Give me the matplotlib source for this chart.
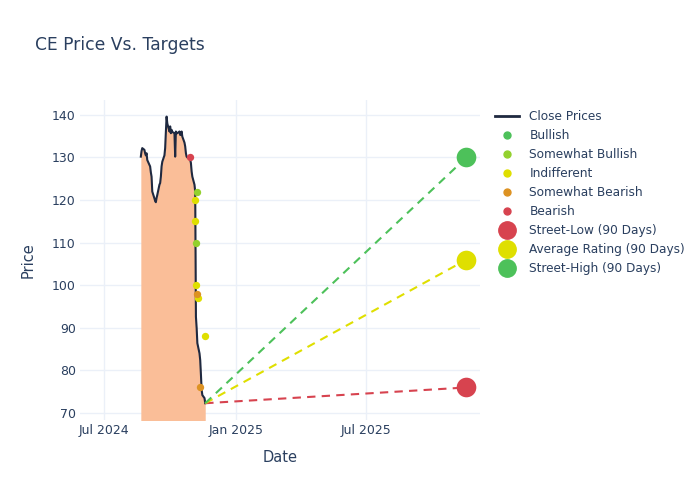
import matplotlib.pyplot as plt
import matplotlib.dates as mdates
import pandas as pd
from matplotlib.lines import Line2D

# close prices
close_dates = pd.bdate_range('2024-08-21', '2024-11-19')
close_prices = [
    130.2, 131.5, 132.2, 131.8, 131.0, 130.5, 131.0, 129.4,
    127.9, 126.5, 125.5, 122.0, 120.4, 119.8, 119.5, 120.5, 121.2,
    123.6, 124.0, 125.5, 127.9, 129.0, 130.5, 132.2, 136.0, 139.6,
    138.0, 136.1, 137.3, 135.7, 136.5, 136.0, 135.7, 130.2, 136.1,
    135.7, 135.7, 136.1, 135.3, 135.3, 136.1, 134.9, 133.5, 132.6,
    131.0, 130.2, 130.0, 130.0, 129.5, 128.7, 126.7, 125.5, 123.6,
    122.0, 92.6, 90.0, 86.4, 84.0, 82.4, 79.0, 75.4, 74.2, 73.5, 72.3,
]
close_dates = close_dates[close_dates != pd.Timestamp('2024-09-02')][:len(close_prices)]

# analyst ratings
rating_dates = pd.to_datetime([
    '2024-10-29', '2024-11-07', '2024-11-05', '2024-11-05', '2024-11-06',
    '2024-11-06', '2024-11-08', '2024-11-09', '2024-11-19', '2024-11-11',
])
rating_prices = [130, 122, 120, 115, 110, 100, 98, 97, 88, 76]
rating_kind = ['Bearish', 'Somewhat Bullish', 'Indifferent', 'Indifferent',
               'Somewhat Bullish', 'Indifferent', 'Somewhat Bearish',
               'Indifferent', 'Indifferent', 'Somewhat Bearish']

kinds = ['Bullish', 'Somewhat Bullish', 'Indifferent', 'Somewhat Bearish', 'Bearish']
kind_colors = ['#4dc15a', '#93d12e', '#dfdf00', '#dd9222', '#d7434f']

# 90 day targets
target_labels = ['Street-Low (90 Days)', 'Average Rating (90 Days)', 'Street-High (90 Days)']
target_values = [76, 106, 130]
target_colors = ['#d7434f', '#dfdf00', '#4dc15a']

text_col = '#2a3f5f'
grid_col = '#ebf0f8'

fig = plt.figure(figsize=(7, 5), dpi=100)
ax = fig.add_axes([0.1143, 0.16, 0.5714, 0.64])

y_low, y_high = 68.36, 143.5
ax.fill_between(close_dates, close_prices, y_low - 5, color='#fabe98', lw=0, zorder=2)
ax.plot(close_dates, close_prices, color='#1f2940', lw=1.5, zorder=3)

last_date = close_dates[-1]
last_price = close_prices[-1]
target_date = last_date + pd.DateOffset(years=1)
for val, col in zip(target_values, target_colors):
    ax.plot([last_date, target_date], [last_price, val], ls=(0, (4, 3)),
            color=col, lw=1.5, zorder=3)
    ax.scatter([target_date], [val], s=200, color=col, zorder=5, lw=0)

for kind, col in zip(kinds, kind_colors):
    xs = [d for d, k in zip(rating_dates, rating_kind) if k == kind]
    ys = [p for p, k in zip(rating_prices, rating_kind) if k == kind]
    if xs:
        ax.scatter(xs, ys, s=28, color=col, zorder=4, lw=0)

ax.set_xlim(pd.Timestamp('2024-05-28'), pd.Timestamp('2025-12-08'))
ax.set_ylim(y_low, y_high)
ax.set_xticks(pd.to_datetime(['2024-07-01', '2025-01-01', '2025-07-01']))
ax.xaxis.set_major_formatter(mdates.DateFormatter('%b %Y'))
ax.set_yticks(range(70, 141, 10))
ax.grid(color=grid_col, lw=1, zorder=0)
ax.set_axisbelow(True)
for s in ax.spines.values():
    s.set_visible(False)
ax.tick_params(length=0, labelsize=9, colors=text_col, pad=3)
ax.set_xlabel('Date', fontsize=10.5, color=text_col, labelpad=9)
ax.set_ylabel('Price', fontsize=10.5, color=text_col, labelpad=12)

fig.text(0.05, 0.9, 'CE Price Vs. Targets', fontsize=12.3, color=text_col)

handles = [Line2D([], [], color='#1f2940', lw=2)]
labels = ['Close Prices']
for kind, col in zip(kinds, kind_colors):
    handles.append(Line2D([], [], ls='', marker='o', ms=5, color=col))
    labels.append(kind)
for lab, col in zip(target_labels, target_colors):
    handles.append(Line2D([], [], ls='', marker='o', ms=12.5, color=col))
    labels.append(lab)
leg = fig.legend(handles, labels, loc='upper left', bbox_to_anchor=(0.7, 0.79),
                 frameon=False, fontsize=8.7, labelspacing=0.5, handlelength=2.0,
                 handletextpad=0.85, borderaxespad=0)
for t in leg.get_texts():
    t.set_color(text_col)

fig.savefig('out.png', dpi=100)
